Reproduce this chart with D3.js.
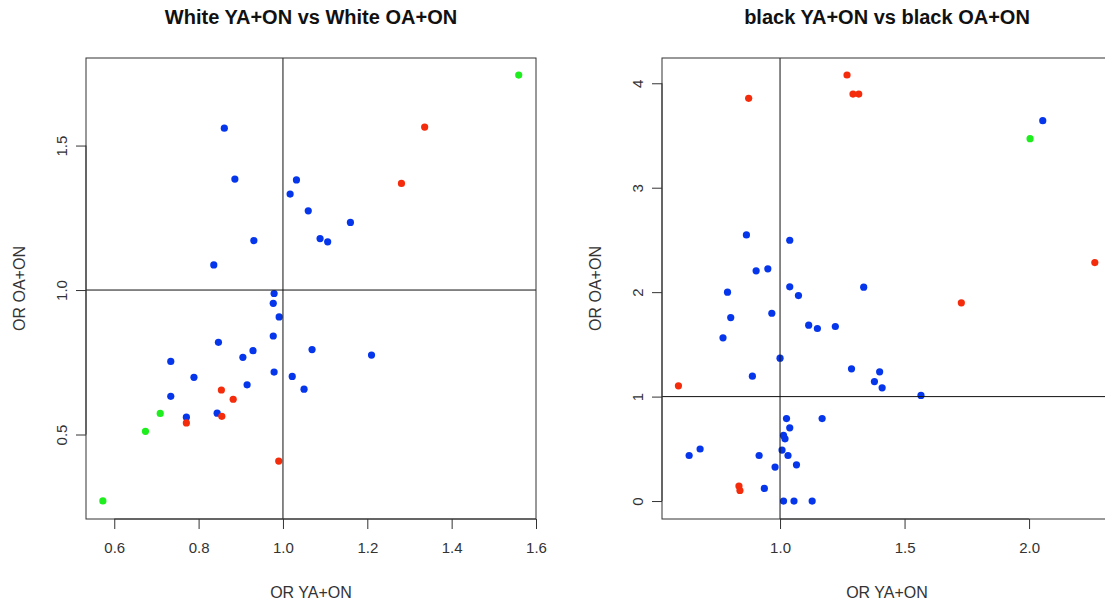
<!DOCTYPE html>
<html>
<head>
<meta charset="utf-8">
<script src="https://cdn.jsdelivr.net/npm/d3@7"></script>
<style>
  html, body { margin: 0; padding: 0; background: #fff; }
  svg { display: block; font-family: "Liberation Sans", Arial, sans-serif; }
</style>
</head>
<body>
<svg id="chart" width="1105" height="605"></svg>
<script>
// Odds ratios: YA+ON (x) against OA+ON (y); group codes b = blue, r = red, g = green
const whiteYA = [0.861, 0.886, 1.032, 1.017, 1.060, 1.088, 1.106, 1.160, 0.931, 0.836,
                 0.979, 0.977, 0.991, 0.977, 0.847, 0.929, 1.069, 0.905, 0.734, 1.210,
                 0.789, 0.979, 1.022, 1.050, 0.915, 0.734, 0.771, 0.844,
                 1.336, 1.281, 0.854, 0.882, 0.771, 0.855, 0.990,
                 1.559, 0.709, 0.674, 0.573];
const whiteOA = [1.560, 1.384, 1.381, 1.332, 1.274, 1.178, 1.167, 1.234, 1.171, 1.087,
                 0.988, 0.954, 0.907, 0.841, 0.819, 0.790, 0.794, 0.767, 0.753, 0.775,
                 0.698, 0.716, 0.701, 0.657, 0.672, 0.632, 0.560, 0.574,
                 1.564, 1.369, 0.654, 0.622, 0.540, 0.563, 0.408,
                 1.744, 0.573, 0.511, 0.270];
const whiteGroup = ["b","b","b","b","b","b","b","b","b","b",
                    "b","b","b","b","b","b","b","b","b","b",
                    "b","b","b","b","b","b","b","b",
                    "r","r","r","r","r","r","r",
                    "g","g","g","g"];

const blackYA = [0.865, 1.039, 0.904, 0.951, 0.789, 1.039, 1.074, 2.055, 1.336, 0.802,
                 0.967, 0.771, 1.115, 1.150, 1.222, 1.000, 0.889, 1.287, 1.400, 1.379,
                 1.410, 1.566, 1.026, 1.169, 1.039, 1.014, 1.020, 0.679, 0.635, 1.008,
                 0.916, 1.032, 1.066, 0.980, 0.937, 1.014, 1.056, 1.129,
                 0.874, 1.269, 1.293, 1.316, 2.264, 1.728, 0.592, 0.835, 0.839,
                 2.004];
const blackOA = [2.548, 2.497, 2.204, 2.223, 2.000, 2.051, 1.967, 3.642, 2.048, 1.757,
                 1.798, 1.563, 1.684, 1.652, 1.671, 1.368, 1.196, 1.266, 1.237, 1.144,
                 1.084, 1.011, 0.790, 0.790, 0.701, 0.628, 0.596, 0.498, 0.436, 0.488,
                 0.436, 0.436, 0.347, 0.325, 0.121, 0.000, 0.000, 0.000,
                 3.856, 4.079, 3.897, 3.897, 2.283, 1.898, 1.103, 0.144, 0.101,
                 3.470];
const blackGroup = ["b","b","b","b","b","b","b","b","b","b",
                    "b","b","b","b","b","b","b","b","b","b",
                    "b","b","b","b","b","b","b","b","b","b",
                    "b","b","b","b","b","b","b","b",
                    "r","r","r","r","r","r","r","r","r",
                    "g"];

const whiteXTicks = [0.6, 0.8, 1.0, 1.2, 1.4, 1.6];
const whiteYTicks = [0.5, 1.0, 1.5];
const blackXTicks = [1.0, 1.5, 2.0];
const blackYTicks = [0, 1, 2, 3, 4];

const groupColor = { b: "#0636ec", r: "#f42c0c", g: "#1eee1e" };

const svg = d3.select("#chart");

function panel(opts) {
  const { left, right, top, bottom, xDomain, yDomain, xs, ys, groups,
          xTicks, yTicks, xFmt, yFmt, title } = opts;
  const x = d3.scaleLinear().domain(xDomain).range([left, right]);
  const y = d3.scaleLinear().domain(yDomain).range([bottom, top]);
  const g = svg.append("g");

  // points: blue first, then red, then green on top
  const pts = xs.map((v, i) => ({ x: v, y: ys[i], g: groups[i] }));
  const order = { b: 0, r: 1, g: 2 };
  pts.sort((a, b) => order[a.g] - order[b.g]);
  g.append("g").selectAll("circle").data(pts).join("circle")
    .attr("cx", d => x(d.x)).attr("cy", d => y(d.y))
    .attr("r", 3.6).attr("fill", d => groupColor[d.g]);

  // reference lines at OR = 1
  g.append("line").attr("x1", x(1)).attr("x2", x(1))
    .attr("y1", top).attr("y2", bottom).attr("stroke", "#111").attr("stroke-width", 1);
  g.append("line").attr("x1", left).attr("x2", right)
    .attr("y1", y(1)).attr("y2", y(1)).attr("stroke", "#111").attr("stroke-width", 1);

  // plot frame
  g.append("rect").attr("x", left).attr("y", top)
    .attr("width", right - left).attr("height", bottom - top)
    .attr("fill", "none").attr("stroke", "#333").attr("stroke-width", 1);

  // x axis
  const xAxis = d3.axisBottom(x).tickValues(xTicks).tickFormat(xFmt)
    .tickSizeInner(10).tickSizeOuter(0).tickPadding(13);
  const gx = g.append("g").attr("transform", `translate(0,${bottom})`).call(xAxis);
  gx.select(".domain").attr("d", `M${x(xTicks[0])},0H${x(xTicks[xTicks.length - 1])}`)
    .attr("stroke", "#333");
  gx.selectAll(".tick line").attr("stroke", "#333");
  gx.selectAll(".tick text").attr("font-size", 15).attr("fill", "#333")
    .attr("font-family", "Liberation Sans, Arial, sans-serif");

  // y axis, labels parallel to the axis
  const yAxis = d3.axisLeft(y).tickValues(yTicks).tickFormat(yFmt)
    .tickSizeInner(10).tickSizeOuter(0);
  const gy = g.append("g").attr("transform", `translate(${left},0)`).call(yAxis);
  gy.select(".domain").attr("d", `M0,${y(yTicks[0])}V${y(yTicks[yTicks.length - 1])}`)
    .attr("stroke", "#333");
  gy.selectAll(".tick line").attr("stroke", "#333");
  gy.selectAll(".tick text")
    .attr("x", null).attr("dy", null)
    .attr("transform", "translate(-19,0) rotate(-90)")
    .attr("text-anchor", "middle")
    .attr("font-size", 15).attr("fill", "#333")
    .attr("font-family", "Liberation Sans, Arial, sans-serif");

  // titles and axis labels
  const cx = (left + right) / 2, cy = (top + bottom) / 2;
  svg.append("text").attr("x", cx).attr("y", 24).attr("text-anchor", "middle")
    .attr("font-size", 20).attr("font-weight", "bold").attr("fill", "#111").text(title);
  svg.append("text").attr("x", cx).attr("y", 598).attr("text-anchor", "middle")
    .attr("font-size", 16).attr("fill", "#333").text("OR YA+ON");
  svg.append("text").attr("transform", `translate(${left - 61},${cy}) rotate(-90)`)
    .attr("text-anchor", "middle").attr("font-size", 16).attr("fill", "#333")
    .text("OR OA+ON");
}

panel({
  left: 86, right: 536, top: 58, bottom: 519,
  xDomain: [0.533, 1.600], yDomain: [0.2076, 1.803],
  xs: whiteYA, ys: whiteOA, groups: whiteGroup,
  xTicks: whiteXTicks, yTicks: whiteYTicks,
  xFmt: d3.format(".1f"), yFmt: d3.format(".1f"),
  title: "White YA+ON vs White OA+ON"
});

panel({
  left: 662, right: 1112, top: 58, bottom: 519,
  xDomain: [0.526, 2.333], yDomain: [-0.172, 4.242],
  xs: blackYA, ys: blackOA, groups: blackGroup,
  xTicks: blackXTicks, yTicks: blackYTicks,
  xFmt: d3.format(".1f"), yFmt: d3.format("d"),
  title: "black YA+ON vs black OA+ON"
});
</script>
</body>
</html>
